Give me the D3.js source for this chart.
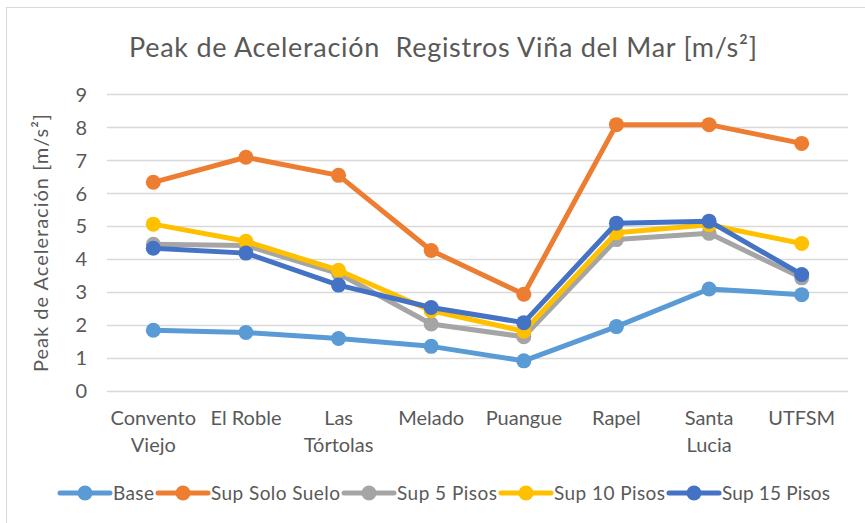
<!DOCTYPE html>
<html>
<head>
<meta charset="utf-8">
<script src="https://cdn.jsdelivr.net/npm/d3@7"></script>
<style>
  html, body { margin: 0; padding: 0; background: #fff; }
  svg { display: block; }
  text { font-family: Lato, "Open Sans", sans-serif; fill: #595959; }
</style>
</head>
<body>
<svg id="chart" width="865" height="523"></svg>
<script>
// Estaciones de registro
const categories = ["Convento Viejo", "El Roble", "Las Tórtolas", "Melado", "Puangue", "Rapel", "Santa Lucia", "UTFSM"];

// Peak de aceleración por serie [m/s²]
const base         = [1.83, 1.76, 1.58, 1.34, 0.90, 1.94, 3.08, 2.91];
const supSoloSuelo = [6.32, 7.08, 6.53, 4.25, 2.92, 8.07, 8.07, 7.50];
const sup5Pisos    = [4.44, 4.40, 3.55, 2.02, 1.63, 4.58, 4.77, 3.42];
const sup10Pisos   = [5.05, 4.53, 3.65, 2.42, 1.80, 4.79, 5.03, 4.46];
const sup15Pisos   = [4.32, 4.17, 3.20, 2.52, 2.06, 5.08, 5.14, 3.52];

const seriesNames  = ["Base", "Sup Solo Suelo", "Sup 5 Pisos", "Sup 10 Pisos", "Sup 15 Pisos"];
const seriesValues = [base, supSoloSuelo, sup5Pisos, sup10Pisos, sup15Pisos];
const seriesColors = ["#5B9BD5", "#ED7D31", "#A5A5A5", "#FFC000", "#4472C4"];

const yTicks = [0, 1, 2, 3, 4, 5, 6, 7, 8, 9];

const FONT = "Lato, 'Open Sans', sans-serif";
const svg = d3.select("#chart");

// Marco del gráfico
svg.append("rect")
  .attr("x", 6.5).attr("y", 7.5)
  .attr("width", 880).attr("height", 540)
  .attr("fill", "#fff")
  .attr("stroke", "#D9D9D9")
  .attr("stroke-width", 1);

// Título
svg.append("text")
  .attr("x", 443).attr("y", 57)
  .attr("text-anchor", "middle")
  .style("font-size", "27px")
  .style("white-space", "pre")
  .attr("textLength", 628)
  .attr("lengthAdjust", "spacing")
  .text("Peak de Aceleración  Registros Viña del Mar [m/s²]");

const plot = { left: 107, right: 848, top: 94, bottom: 390.5 };

const x = d3.scaleBand().domain(categories).range([plot.left, plot.right]);
const y = d3.scaleLinear().domain([0, 9]).range([plot.bottom, plot.top]);
const cx = c => x(c) + x.bandwidth() / 2;

// Líneas de cuadrícula horizontales
svg.append("g")
  .selectAll("line")
  .data(yTicks)
  .join("line")
  .attr("x1", plot.left).attr("x2", plot.right)
  .attr("y1", d => Math.round(y(d)) + 0.5).attr("y2", d => Math.round(y(d)) + 0.5)
  .attr("stroke", "#D9D9D9")
  .attr("stroke-width", 1.3);

// Eje Y
const yAxis = svg.append("g")
  .attr("transform", `translate(${plot.left - 20},0)`)
  .call(d3.axisLeft(y).tickValues(yTicks).tickSize(0).tickPadding(0));
yAxis.select(".domain").remove();
yAxis.selectAll("text")
  .style("font-family", FONT)
  .style("font-size", "20px")
  .attr("fill", "#595959")
  .attr("dy", "0.36em");

// Título eje Y
svg.append("text")
  .attr("transform", "translate(48,243) rotate(-90)")
  .attr("text-anchor", "middle")
  .style("font-size", "20px")
  .attr("textLength", 258)
  .attr("lengthAdjust", "spacing")
  .text("Peak de Aceleración [m/s²]");

// Etiquetas eje X (con ajuste de línea)
const xAxis = svg.append("g")
  .attr("transform", `translate(0,${plot.bottom})`)
  .call(d3.axisBottom(x).tickSize(0).tickPadding(0));
xAxis.select(".domain").remove();
xAxis.selectAll(".tick text").each(function(d) {
  const t = d3.select(this);
  t.text(null)
    .attr("y", 0)
    .attr("dy", null)
    .style("font-family", FONT)
    .style("font-size", "20px")
    .attr("fill", "#595959");
  const words = d.split(" ");
  const maxW = x.bandwidth() - 6;
  const lines = [];
  let cur = [];
  const probe = t.append("tspan");
  words.forEach(w => {
    probe.text(cur.concat([w]).join(" "));
    if (probe.node().getComputedTextLength() > maxW && cur.length) {
      lines.push(cur.join(" "));
      cur = [w];
    } else {
      cur.push(w);
    }
  });
  lines.push(cur.join(" "));
  probe.remove();
  lines.forEach((ln, i) => {
    t.append("tspan").attr("x", 0).attr("y", 34 + i * 27).text(ln);
  });
});

// Series
const line = d3.line().x((d, i) => cx(categories[i])).y(d => y(d));
seriesValues.forEach((vals, s) => {
  const g = svg.append("g");
  g.append("path")
    .datum(vals)
    .attr("d", line)
    .attr("fill", "none")
    .attr("stroke", seriesColors[s])
    .attr("stroke-width", 5)
    .attr("stroke-linejoin", "round");
  g.selectAll("circle")
    .data(vals)
    .join("circle")
    .attr("cx", (d, i) => cx(categories[i]))
    .attr("cy", d => y(d))
    .attr("r", 7.5)
    .attr("fill", seriesColors[s]);
});

// Leyenda: ancho de texto de cada entrada
const legendTextWidth = [41, 129, 100, 111, 108];
const legend = svg.append("g").attr("transform", "translate(0,493)");
let lx = 60;
seriesNames.forEach((name, s) => {
  const item = legend.append("g");
  item.append("line")
    .attr("x1", lx).attr("x2", lx + 50)
    .attr("y1", 0).attr("y2", 0)
    .attr("stroke", seriesColors[s])
    .attr("stroke-width", 5)
    .attr("stroke-linecap", "round");
  item.append("circle")
    .attr("cx", lx + 25).attr("cy", 0).attr("r", 7.5)
    .attr("fill", seriesColors[s]);
  item.append("text")
    .attr("x", lx + 53).attr("y", 0).attr("dy", "0.36em")
    .style("font-size", "19px")
    .attr("textLength", legendTextWidth[s])
    .attr("lengthAdjust", "spacing")
    .text(name);
  lx += 53 + legendTextWidth[s] + 4;
});
</script>
</body>
</html>
